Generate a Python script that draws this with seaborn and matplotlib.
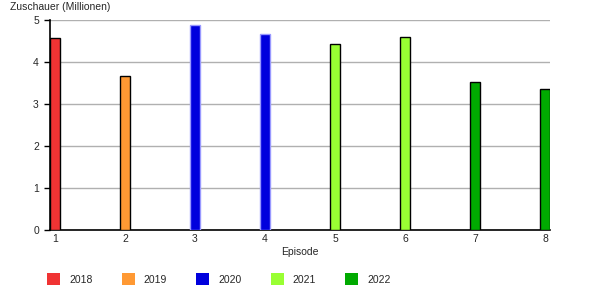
import matplotlib
matplotlib.use("Agg")
import matplotlib.pyplot as plt
import seaborn as sns
import pandas as pd
from matplotlib.patches import Patch

episodes = [1, 2, 3, 4, 5, 6, 7, 8]
viewers = [4.58, 3.66, 4.89, 4.66, 4.42, 4.60, 3.52, 3.35]
years = ["2018", "2019", "2020", "2020", "2021", "2021", "2022", "2022"]
year_labels = ["2018", "2019", "2020", "2021", "2022"]
year_colors = ["#f03333", "#ff9933", "#0000dd", "#99ff33", "#00aa00"]
year_edges = ["#000000", "#000000", "#9999ff", "#000000", "#000000"]

sns.set_theme(style="white")
plt.rcParams["font.family"] = ["Liberation Sans", "DejaVu Sans"]

df = pd.DataFrame({"Episode": episodes, "Zuschauer": viewers, "Jahr": years})

fig = plt.figure(figsize=(6, 3), dpi=100)
ax = fig.add_axes([50/600, 70/300, 500/600, 210/300])

palette = dict(zip(year_labels, year_colors))
sns.barplot(data=df, x="Episode", y="Zuschauer", hue="Jahr", palette=palette,
            native_scale=True, dodge=False, width=0.143, legend=False,
            saturation=1, ax=ax, linewidth=1)

edge_map = dict(zip(year_labels, year_edges))
bars = sorted(ax.patches, key=lambda p: p.get_x())
for bar, yr in zip(bars, years):
    bar.set_edgecolor(edge_map[yr])
    bar.set_linewidth(1)
    bar.set_zorder(3)

ax.set_xlim(1 - 5/70, 8 + 5/70)
ax.set_ylim(0, 5)
ax.set_xticks(episodes)
ax.set_xticklabels([str(e) for e in episodes])
ax.set_yticks([0, 1, 2, 3, 4, 5])
ax.yaxis.grid(True, color="#b0b0b0", linewidth=1)
ax.set_axisbelow(True)
for s in ["top", "right"]:
    ax.spines[s].set_visible(False)
for s in ["left", "bottom"]:
    ax.spines[s].set_color("black")
    ax.spines[s].set_linewidth(1.2)
ax.tick_params(axis="y", left=True, length=4, width=1, color="black", labelsize=7.5, pad=4)
ax.tick_params(axis="x", bottom=False, length=0, labelsize=7.5, pad=3)
ax.set_xlabel("Episode", fontsize=7.5, labelpad=2)
ax.set_ylabel("")
fig.text(10/600, 1 - 7/300, "Zuschauer (Millionen)", fontsize=7.5, va="center", ha="left")

handles = [Patch(facecolor=c, edgecolor="none", label=l) for c, l in zip(year_colors, year_labels)]
fig.legend(handles=handles, loc="center left", bbox_to_anchor=(38/600, 1 - 279/300),
           ncol=5, frameon=False, fontsize=7.5, handlelength=1.25, handleheight=1.25,
           columnspacing=2.8, handletextpad=0.86)

fig.savefig("out.png", dpi=100)
